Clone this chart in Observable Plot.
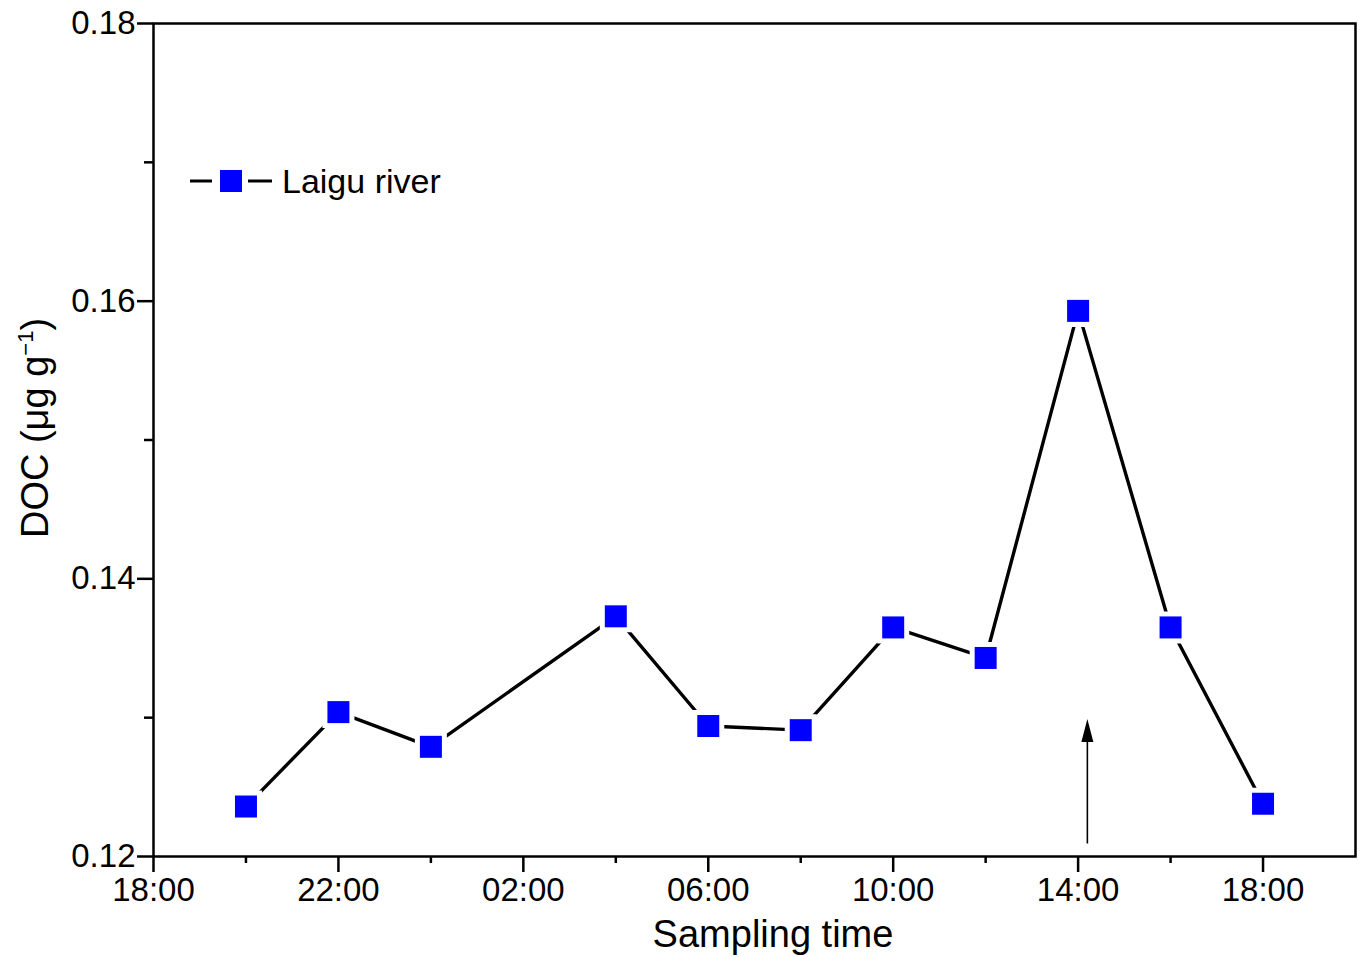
<!DOCTYPE html>
<html><head><meta charset="utf-8">
<script src="https://cdn.jsdelivr.net/npm/d3@7"></script>
<script src="https://cdn.jsdelivr.net/npm/@observablehq/plot@0.6"></script>
<style>
body{margin:0;background:#fff;}
#chart{position:relative;width:1361px;height:957px;}
svg{font-family:"Liberation Sans",Arial,sans-serif;}
</style>
</head><body><div id="chart"></div>
<script>
// Hours elapsed since 18:00 on the first day
const sampleHours = [2, 4, 6, 10, 12, 14, 16, 18, 20, 22, 24];
const sampleTimes = ["20:00","22:00","00:00","04:00","06:00","08:00","10:00","12:00","14:00","16:00","18:00"];
const docValues = [0.1236, 0.1304, 0.1279, 0.1373, 0.1294, 0.1291, 0.1365, 0.1343, 0.1593, 0.1365, 0.1238];
const seriesName = "Laigu river";

const xTickHours = [0, 4, 8, 12, 16, 20, 24];
const xTickLabels = ["18:00","22:00","02:00","06:00","10:00","14:00","18:00"];
const xMinorHours = [2, 6, 10, 14, 18, 22];
const yMajorTicks = [0.12, 0.14, 0.16, 0.18];
const yMinorTicks = [0.13, 0.15, 0.17];

const arrowHour = [20.2];
const arrowFrom = [0.1209];
const arrowTo = [0.1299];

const data = sampleHours.map((h, i) => ({hour: h, time: sampleTimes[i], doc: docValues[i]}));

const W = 1361, H = 957;
const mL = 153, mT = 23, mR = 6, mB = 101;
const blue = "#0000ff";
const side = 22;

const arrowHead = {
  draw(ctx) { ctx.moveTo(0, 0); ctx.lineTo(6, 23); ctx.lineTo(-6, 23); ctx.closePath(); }
};

const plot = Plot.plot({
  width: W, height: H,
  marginLeft: mL, marginTop: mT, marginRight: mR, marginBottom: mB,
  style: {fontFamily: '"Liberation Sans", Arial, sans-serif', background: "white", color: "black"},
  x: {domain: [0, 26]},
  y: {domain: [0.12, 0.18]},
  marks: [
    Plot.axisX({ticks: xTickHours, tickSize: 16, tickPadding: 5, strokeWidth: 2.5, fontSize: 33,
      tickFormat: d => xTickLabels[xTickHours.indexOf(d)], label: null}),
    Plot.axisX({ticks: xMinorHours, tickSize: 7, strokeWidth: 2.5, tickFormat: () => "", label: null}),
    Plot.axisY({ticks: yMajorTicks, tickSize: 16, tickPadding: 2, strokeWidth: 2.5, fontSize: 33,
      tickFormat: d3.format(".2f"), label: null}),
    Plot.axisY({ticks: yMinorTicks, tickSize: 9, strokeWidth: 2.5, tickFormat: () => "", label: null}),
    Plot.frame({strokeWidth: 2.5}),
    Plot.line(data, {x: "hour", y: "doc", stroke: "black", strokeWidth: 3.4}),
    Plot.dot(data, {x: "hour", y: "doc", symbol: "square", r: side / Math.sqrt(Math.PI),
      fill: blue, stroke: "white", strokeWidth: 10, paintOrder: "stroke"}),
    Plot.ruleX(arrowHour, {x: d => d, y1: () => arrowFrom[0], y2: () => arrowTo[0] - 0.0012, stroke: "black", strokeWidth: 1.6}),
    Plot.dot(arrowHour, {x: d => d, y: () => arrowTo[0], symbol: arrowHead, fill: "black", stroke: "none"})
  ]
});

const svg = d3.select(plot);
// Axis titles
svg.append("text")
  .attr("x", 773).attr("y", 947)
  .attr("text-anchor", "middle")
  .attr("font-size", 38).attr("fill", "black")
  .text("Sampling time");

const yt = svg.append("text")
  .attr("transform", "translate(48,428) rotate(-90)")
  .attr("text-anchor", "middle")
  .attr("font-size", 38).attr("fill", "black");
yt.append("tspan").text("DOC (\u03bcg g");
yt.append("tspan").attr("font-size", 22).attr("dy", -15).text("\u22121");
yt.append("tspan").attr("dy", 15).text(")");

// Legend
const lg = svg.append("g").attr("text-anchor", "start");
lg.append("line").attr("x1", 190).attr("x2", 212).attr("y1", 181).attr("y2", 181).attr("stroke", "black").attr("stroke-width", 3);
lg.append("line").attr("x1", 248).attr("x2", 272).attr("y1", 181).attr("y2", 181).attr("stroke", "black").attr("stroke-width", 3);
lg.append("rect").attr("x", 220).attr("y", 170).attr("width", side).attr("height", side).attr("fill", blue);
lg.append("text").attr("x", 282).attr("y", 193).attr("text-anchor", "start").attr("font-size", 34).attr("fill", "black").text(seriesName);

document.getElementById("chart").appendChild(plot);
</script>
</body></html>
